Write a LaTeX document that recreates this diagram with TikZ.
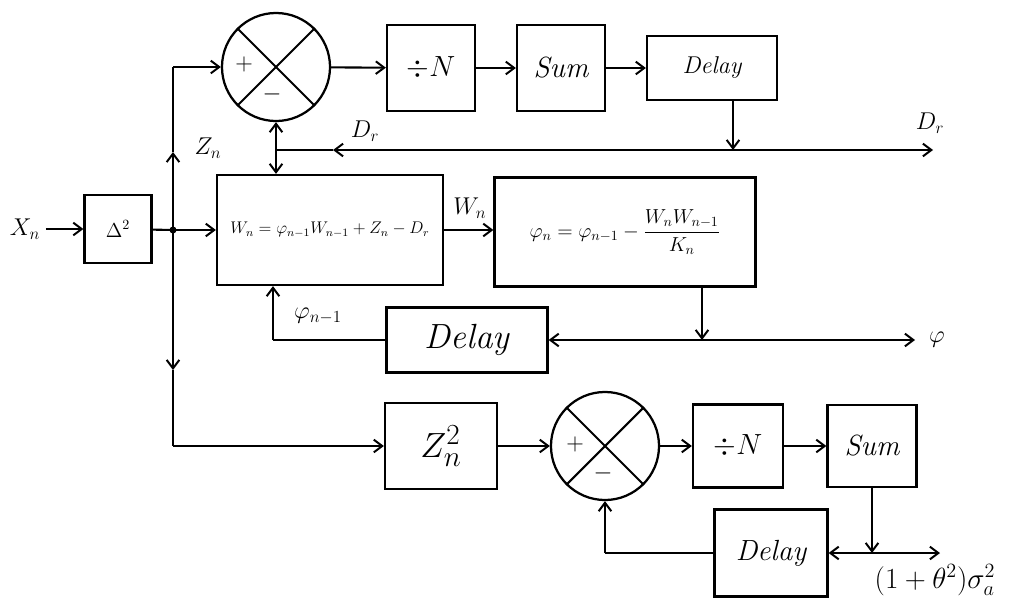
\documentclass[tikz,border=0pt]{standalone}
\usepackage{amsmath}
\usepackage{tikz}
\usetikzlibrary{arrows.meta, positioning}

\begin{document}
\begin{tikzpicture}[
    x=0.025cm, y=-0.025cm,
    line width=1.5pt,
    block/.style={rectangle, draw, line width=1.6pt, font=\huge\itshape, inner sep=2pt},
    summer/.style={circle, draw, line width=1.6pt, minimum size=2.7cm, inner sep=0pt},
    arrow/.style={-{Straight Barb[length=6pt, width=9pt, line width=1.4pt]}},
    lbl/.style={font=\LARGE}
]
    \useasboundingbox (0,0) rectangle (1035,599);

    % Top row
    \node[summer] (sumT) at (276,67) {};
    \node[block, minimum width=2.2cm, minimum height=2.15cm] (divT) at (431,68) {$\div N$};
    \node[block, minimum width=2.2cm, minimum height=2.15cm] (accT) at (561,68) {Sum};
    \node[block, minimum width=3.25cm, minimum height=1.6cm, font=\LARGE\itshape] (delT) at (712,68) {Delay};
    \draw (sumT.north west) -- (sumT.south east);
    \draw (sumT.north east) -- (sumT.south west);
    \node[font=\LARGE] at (244,64) {$+$};
    \node[font=\LARGE] at (272,94) {$-$};

    % Middle row
    \node[font=\LARGE] (xin) at (25,229) {$X_n$};
    \node[block, minimum width=1.675cm, minimum height=1.7cm, font=\Large] (diff) at (118,229) {$\Delta^2$};
    \node[block, minimum width=5.65cm, minimum height=2.75cm, font=\large] (wbox) at (330,230)
        {$W_n=\varphi_{n-1}W_{n-1}+Z_n-D_r$};
    \node[block, minimum width=6.525cm, minimum height=2.725cm, font=\Large] (phibox) at (625,232)
        {$\varphi_n=\varphi_{n-1}-\dfrac{W_nW_{n-1}}{K_n}$};
    \node[block, minimum width=4.025cm, minimum height=1.625cm, font=\Huge\itshape] (delM) at (467,340) {Delay};

    % Bottom row
    \node[block, minimum width=2.8cm, minimum height=2.15cm, font=\Huge] (zsq) at (441,446) {$Z_n^2$};
    \node[summer] (sumB) at (605,446) {};
    \node[block, minimum width=2.25cm, minimum height=2.075cm] (divB) at (738,446) {$\div N$};
    \node[block, minimum width=2.225cm, minimum height=2.05cm] (accB) at (872,446) {Sum};
    \node[block, minimum width=2.825cm, minimum height=2.175cm] (delB) at (771,553) {Delay};
    \draw (sumB.north west) -- (sumB.south east);
    \draw (sumB.north east) -- (sumB.south west);
    \node[font=\LARGE] at (575,444) {$+$};
    \node[font=\LARGE] at (603,473) {$-$};

    % Junctions
    \coordinate (jin) at (173,230);
    \coordinate (jtop) at (173,67);
    \coordinate (jbot) at (173,446);
    \coordinate (dtap) at (733,150);
    \coordinate (dmid) at (333,150);
    \coordinate (dj) at (276,150);
    \coordinate (dend) at (933,150);
    \coordinate (ptap) at (702,340);
    \coordinate (pend) at (915,340);
    \coordinate (pj) at (273,340);
    \coordinate (stap) at (872,553);
    \coordinate (send) at (940,553);
    \coordinate (sj) at (605,553);

    % Input and left bus
    \draw[arrow] (xin) -- (diff);
    \draw (diff) -- (jin);
    \fill (jin) circle (2.5pt);
    \draw[arrow] (jin) -- (wbox);
    \draw[arrow] (jin) -- (173,152);
    \draw (173,152) -- (jtop);
    \draw[arrow] (jtop) -- (sumT);
    \draw[arrow] (jin) -- (173,370);
    \draw (173,370) -- (jbot);
    \draw[arrow] (jbot) -- (zsq);
    \node[lbl] at (208,148) {$Z_n$};

    % Top chain
    \draw[arrow] (sumT) -- (divT);
    \draw[arrow] (divT) -- (accT);
    \draw[arrow] (accT) -- (delT);
    \draw[arrow] (delT.south -| dtap) -- (dtap);
    \draw[arrow] (dtap) -- (dend);
    \draw[arrow] (dtap) -- (dmid);
    \draw (dmid) -- (dj);
    \draw[arrow] (dj) -- (sumT);
    \draw[arrow] (dj) -- (wbox.north -| dj);
    \node[lbl] at (365,131) {$D_r$};
    \node[lbl] at (930,123) {$D_r$};

    % Middle chain
    \draw[arrow] (wbox) -- (phibox.west |- wbox);
    \node[lbl] at (470,208) {$W_n$};
    \draw[arrow] (phibox.south -| ptap) -- (ptap);
    \draw[arrow] (ptap) -- (pend);
    \draw[arrow] (ptap) -- (delM);
    \draw (delM) -- (pj);
    \draw[arrow] (pj) -- (wbox.south -| pj);
    \node[font=\LARGE] at (937,340) {$\varphi$};
    \node[lbl] at (318,316) {$\varphi_{n-1}$};

    % Bottom chain
    \draw[arrow] (zsq) -- (sumB);
    \draw[arrow] (sumB) -- (divB);
    \draw[arrow] (divB) -- (accB);
    \draw[arrow] (accB) -- (stap);
    \draw[arrow] (stap) -- (send);
    \draw[arrow] (stap) -- (delB);
    \draw (delB) -- (sj);
    \draw[arrow] (sj) -- (sumB);
    \node[font=\huge] at (935,580) {$(1+\theta^2)\sigma_a^2$};
\end{tikzpicture}
\end{document}
